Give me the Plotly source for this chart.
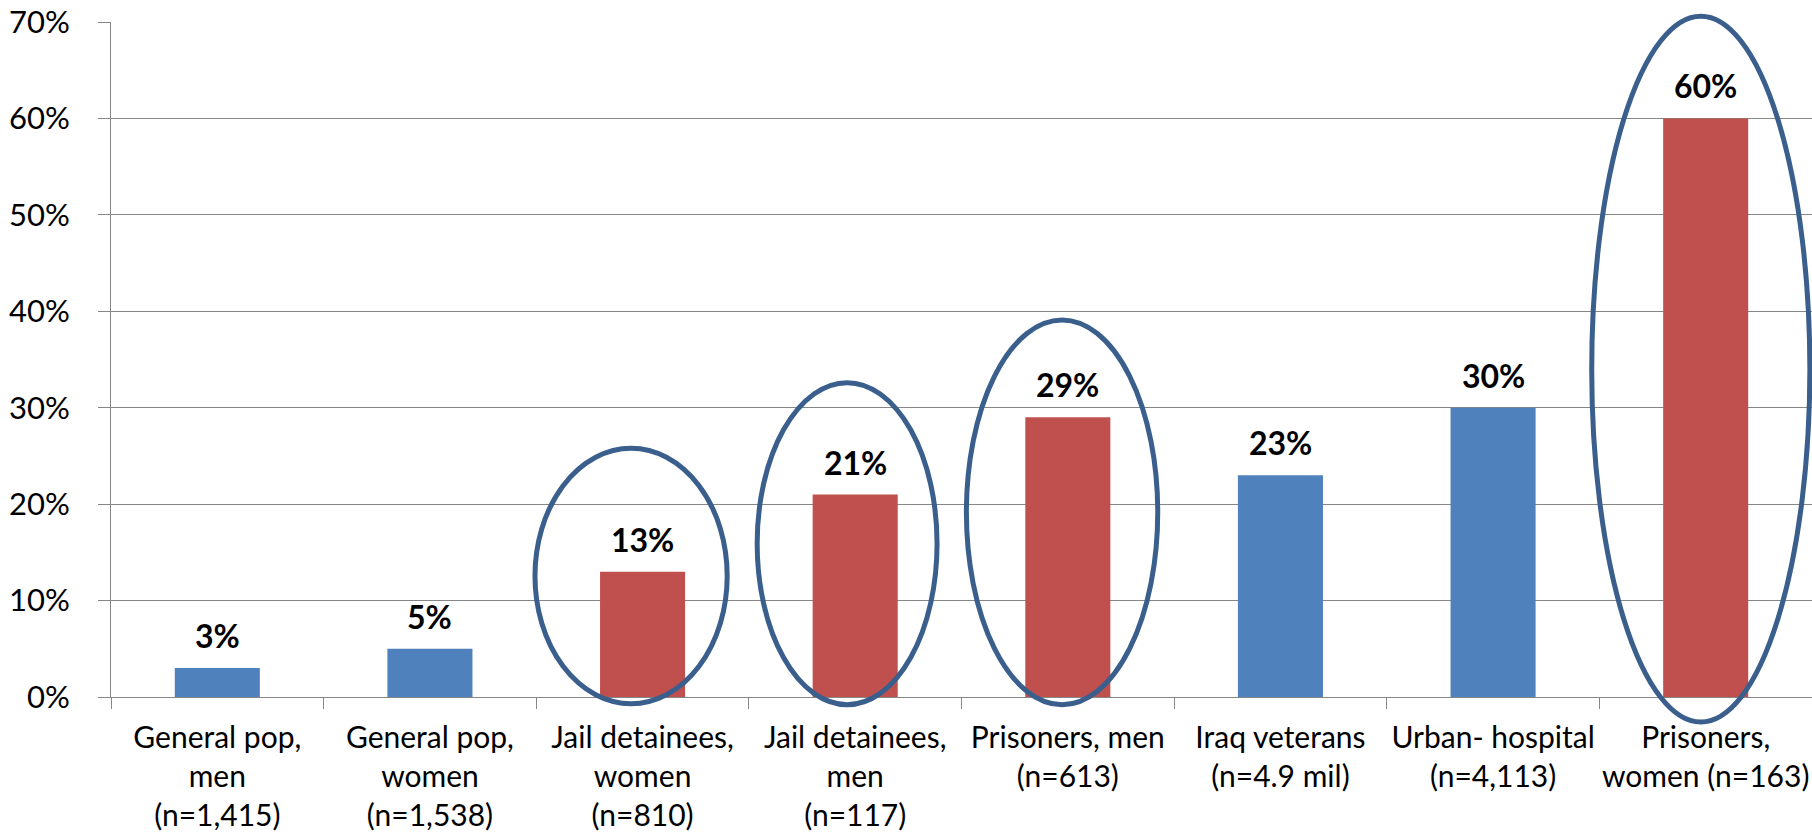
import plotly.graph_objects as go

categories = [
    "General pop,<br>men<br>(n=1,415)",
    "General pop,<br>women<br>(n=1,538)",
    "Jail detainees,<br>women<br>(n=810)",
    "Jail detainees,<br>men<br>(n=117)",
    "Prisoners, men<br>(n=613)",
    "Iraq veterans<br>(n=4.9 mil)",
    "Urban- hospital<br>(n=4,113)",
    "Prisoners,<br>women (n=163)",
]
values = [3, 5, 13, 21, 29, 23, 30, 60]
highlighted = [False, False, True, True, True, False, False, True]
y_ticks = [0, 10, 20, 30, 40, 50, 60, 70]

# highlight ellipses: category position (index units), half-width, top & bottom (in %)
ellipse_center = [1.946, 2.962, 3.973, 6.977]
ellipse_halfwidth = [0.452, 0.423, 0.450, 0.513]
ellipse_top = [25.8, 32.6, 39.1, 70.6]
ellipse_bottom = [-0.7, -0.8, -0.8, -2.6]

BLUE = "#4F81BD"
RED = "#C0504D"
OUTLINE = "#3A5F8D"
GRID = "#868686"
FONT = "Lato"

YMAX = 70
XMIN, XMAX = -0.5, len(categories) - 0.5

fig = go.Figure()
fig.add_trace(go.Bar(
    x=categories,
    y=values,
    width=0.4,
    marker=dict(color=[RED if h else BLUE for h in highlighted], line=dict(width=0)),
    hoverinfo="skip",
))

for c, v in zip(categories, values):
    fig.add_annotation(
        x=c, y=v, xref="x", yref="y",
        text=f"<b>{v}%</b>", showarrow=False,
        yanchor="bottom", yshift=11,
        font=dict(family=FONT, size=32, color="#000000"),
    )

def to_px(c):
    return (c - XMIN) / (XMAX - XMIN)

for c, hw, top, bot in zip(ellipse_center, ellipse_halfwidth, ellipse_top, ellipse_bottom):
    fig.add_shape(
        type="circle", xref="paper", yref="paper",
        x0=to_px(c - hw), x1=to_px(c + hw),
        y0=bot / YMAX, y1=top / YMAX,
        line=dict(color=OUTLINE, width=5),
        layer="above",
    )

fig.update_layout(
    width=1812, height=836,
    margin=dict(l=111, r=0, t=22, b=139, pad=0),
    paper_bgcolor="white", plot_bgcolor="white",
    showlegend=False,
    bargap=0.6,
    font=dict(family=FONT, color="#000000"),
)
fig.update_xaxes(
    type="category",
    range=[XMIN, XMAX],
    automargin=False,
    tickangle=0,
    tickson="boundaries",
    ticks="outside", ticklen=11, tickcolor=GRID, tickwidth=1,
    showline=True, linecolor=GRID, linewidth=1,
    showgrid=False,
    tickfont=dict(family=FONT, size=30, color="#000000"),
    ticklabelstandoff=14,
)
fig.update_yaxes(
    range=[0, YMAX],
    automargin=False,
    tickvals=y_ticks,
    ticktext=[f"{t}%" for t in y_ticks],
    ticks="outside", ticklen=12, tickcolor=GRID, tickwidth=1,
    showline=True, linecolor=GRID, linewidth=1,
    showgrid=True, gridcolor=GRID, gridwidth=1,
    zeroline=False,
    tickfont=dict(family=FONT, size=31, color="#000000"),
    ticklabelstandoff=22,
)

fig.write_html("out.html")
